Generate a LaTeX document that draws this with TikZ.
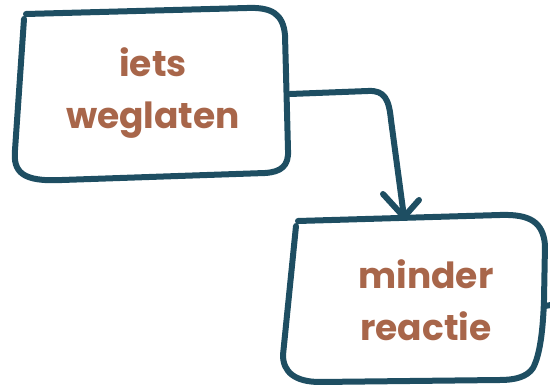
\documentclass[tikz,border=0pt]{standalone}
\usepackage{fontspec}
\setmainfont{Poppins}
\definecolor{strokec}{RGB}{30,78,98}
\definecolor{textc}{RGB}{168,102,74}
\begin{document}
\begin{tikzpicture}[x=1pt,y=-1pt,
  sketch/.style={draw=strokec,line width=6pt,line cap=round,line join=round},
  label/.style={text=textc,font=\fontsize{36}{52}\selectfont\bfseries,align=center,inner sep=0pt}]
\useasboundingbox (0,0) rectangle (550,385);
% box 1
\draw[sketch] (26,14) -- (247,8) .. controls (272,7) and (283,14) .. (285,35)
  -- (288,150) .. controls (289,166) and (281,172) .. (265,173)
  -- (62,180) .. controls (22,182) and (13,172) .. (15,150) -- (24,19);
\node[label] (a) at (153,93) {iets\\weglaten};
% box 2
\draw[sketch] (298,221) -- (500,215) .. controls (530,214) and (543,222) .. (545,245)
  -- (544,300) .. controls (543,330) and (540,355) .. (533,368)
  .. controls (527,377) and (515,380) .. (500,380)
  -- (320,382) .. controls (295,382) and (283,372) .. (283,355) -- (296,226);
\node[label] (b) at (426,300) {minder\\reactie};
% stub on right
\coordinate (s1) at (545,306);
\coordinate (s2) at (551,305);
\draw[sketch,line cap=butt] (s1) -- (s2);
% connector
\coordinate (c0) at (290,94);
\coordinate (tip) at (404,217);
\draw[sketch] (c0) -- (368,91) .. controls (385,90) and (389,100) .. (391,120) -- (tip);
\coordinate (b1) at (383,194);
\coordinate (b2) at (419,200);
\draw[sketch] (b1) -- (tip) -- (b2);
\end{tikzpicture}
\end{document}
